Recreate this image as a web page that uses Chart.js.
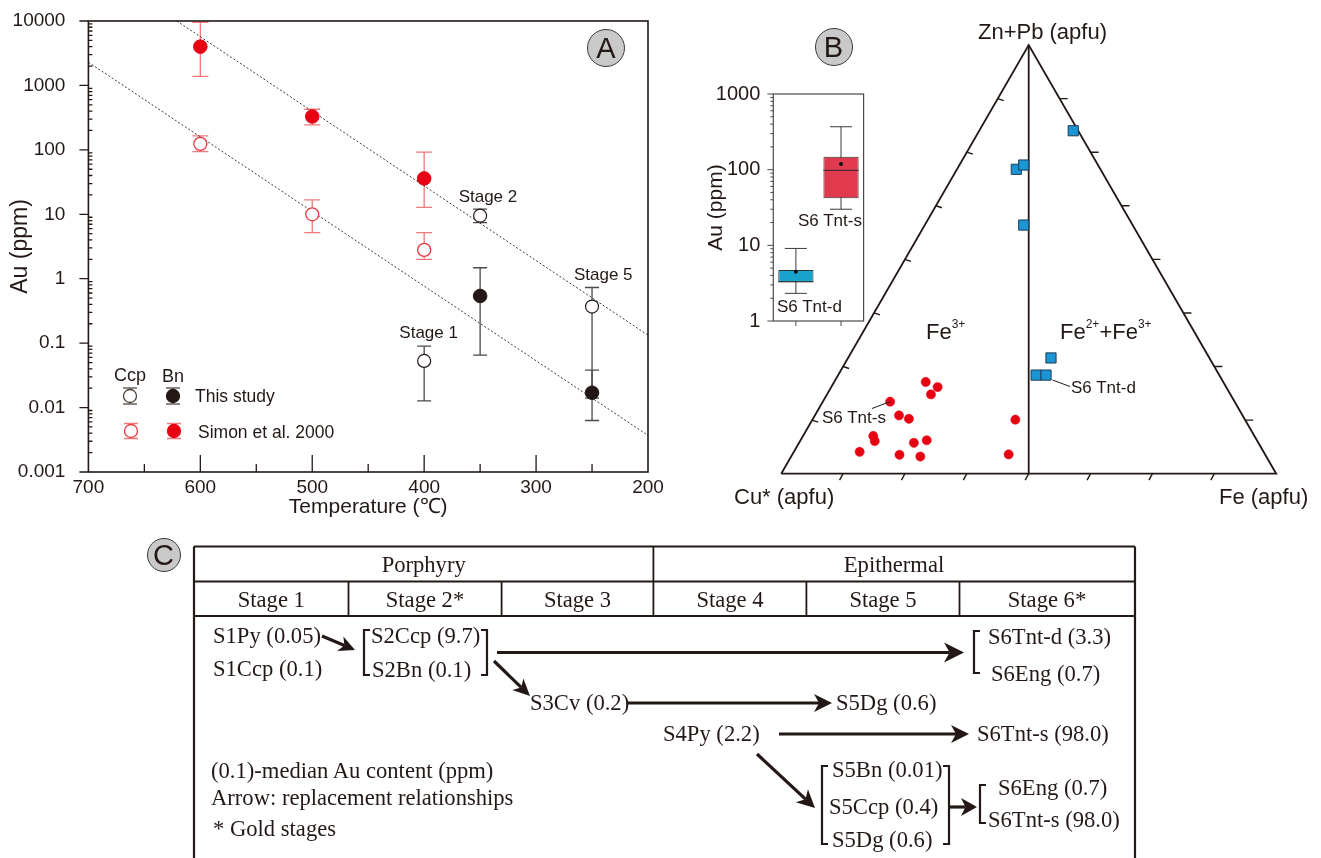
<!DOCTYPE html>
<html><head><meta charset="utf-8">
<script src="https://cdn.jsdelivr.net/npm/chart.js@4.4.1/dist/chart.umd.min.js"></script>
<style>
html,body{margin:0;padding:0;background:#fff;}
#page{position:relative;width:1321px;height:858px;overflow:hidden;background:#fff;font-family:"Liberation Sans",Arial,sans-serif;color:#231815;}
canvas{position:absolute;}
.t{position:absolute;white-space:nowrap;line-height:1;transform:translateY(-50%);}
.circ{position:absolute;border-radius:50%;background:#c9c9c9;border:1.6px solid #3a3a3a;box-sizing:border-box;text-align:center;font-family:"Liberation Sans",Arial,sans-serif;color:#231815;}
.c{position:absolute;white-space:nowrap;line-height:1;transform:translateY(-50%);font-family:"Liberation Serif","Times New Roman",serif;font-size:22.6px;color:#231815;}
.cc{position:absolute;white-space:nowrap;line-height:1;transform:translate(-50%,-50%);font-family:"Liberation Serif","Times New Roman",serif;font-size:22.6px;color:#231815;}
sup{font-size:12px;line-height:0;position:relative;top:-3px;vertical-align:super;}
svg{position:absolute;left:0;top:0;}
</style></head>
<body><div id="page">
<canvas id="cA" width="690" height="525" style="left:0;top:0;width:690px;height:525px"></canvas>
<canvas id="cB" width="621" height="520" style="left:700px;top:0;width:621px;height:520px"></canvas>
<canvas id="cBox" width="175" height="290" style="left:700px;top:60px;width:175px;height:290px"></canvas>
<svg id="svgC" width="1321" height="858"></svg>
<div id="overlay"></div>
</div>
<script>
// ---------------- Panel A data ----------------
const simonT = [600, 500, 400];
const simonCcpAu = [124, 10, 2.8];
const simonCcpLow = [94, 5.2, 2.0];
const simonCcpHigh = [165, 16.7, 5.2];
const simonBnAu = [4000, 330, 36];
const simonBnLow = [1380, 245, 12.8];
const simonBnHigh = [9500, 427, 92];
const studyCcpT = [400, 350, 250];
const studyCcpAu = [0.053, 9.5, 0.37];
const studyCcpLow = [0.0127, 7.4, 0.014];
const studyCcpHigh = [0.09, 12, 0.73];
const studyBnT = [350, 250];
const studyBnAu = [0.54, 0.017];
const studyBnLow = [0.065, 0.0063];
const studyBnHigh = [1.48, 0.038];
const trendHighT = [621, 200];
const trendHighAu = [10000, 0.133];
const trendLowT = [700, 200];
const trendLowAu = [2290, 0.0037];
const tempTicks = [700, 600, 500, 400, 300, 200];
const auTicks = [0.001, 0.01, 0.1, 1, 10, 100, 1000, 10000];
const auTickLabels = ['0.001', '0.01', '0.1', '1', '10', '100', '1000', '10000'];
const stageLabels = ['Stage 2', 'Stage 5', 'Stage 1'];
const stageLabelT = [343, 240, 396];
const stageLabelAu = [18.4, 1.13, 0.142];

// ---------------- Panel B data (ternary: Zn+Pb, Fe fractions) ----------------
const tntdZnPb = [0.80, 0.71, 0.72, 0.58, 0.27, 0.23, 0.23];
const tntdFe   = [0.19, 0.12, 0.13, 0.20, 0.41, 0.40, 0.42];
const tntsZnPb = [0.214, 0.202, 0.185, 0.168, 0.136, 0.128, 0.126, 0.088, 0.076, 0.072, 0.078, 0.051, 0.044, 0.040, 0.045];
const tntsFe   = [0.185, 0.215, 0.210, 0.136, 0.170, 0.194, 0.410, 0.142, 0.151, 0.232, 0.255, 0.133, 0.217, 0.261, 0.437];
// inset box plot
const boxCats = ['S6 Tnt-d', 'S6 Tnt-s'];
const boxMin  = [2.32, 30];
const boxQ1   = [3.25, 41.8];
const boxMed  = [3.3, 98];
const boxQ3   = [4.72, 148];
const boxMax  = [9.1, 369];
const boxMean = [4.48, 118.6];
const boxTicks = [1, 10, 100, 1000];

// ---------------- Panel C data ----------------
const cStagesGroup = ['Porphyry', 'Epithermal'];
const cStages = ['Stage 1', 'Stage 2*', 'Stage 3', 'Stage 4', 'Stage 5', 'Stage 6*'];
const cMinerals = ['S1Py', 'S1Ccp', 'S2Ccp', 'S2Bn', 'S3Cv', 'S4Py', 'S5Bn', 'S5Ccp', 'S5Dg', 'S6Tnt-d', 'S6Eng', 'S6Tnt-s'];
const cMedianAu = [0.05, 0.1, 9.7, 0.1, 0.2, 2.2, 0.01, 0.4, 0.6, 3.3, 0.7, 98.0];

const INK = '#231815';
const FONT = '"Liberation Sans", Arial, sans-serif';
const noPad = s => { s.paddingLeft = 0; s.paddingRight = 0; s.paddingTop = 0; s.paddingBottom = 0; };

// ================= Panel A =================
const pts = (xs, ys) => xs.map((x, i) => ({x: x, y: ys[i]}));

const errorBars = {
  id: 'errorBars',
  beforeDatasetsDraw(chart) {
    const ctx = chart.ctx, ys = chart.scales.y;
    chart.data.datasets.forEach((ds, i) => {
      if (!ds.errLow) return;
      const meta = chart.getDatasetMeta(i);
      ctx.save(); ctx.strokeStyle = ds.errColor; ctx.lineWidth = 1.3;
      meta.data.forEach((pt, j) => {
        const x = pt.x, y1 = ys.getPixelForValue(ds.errLow[j]), y2 = ys.getPixelForValue(ds.errHigh[j]);
        const cw = ds.capW || 7;
        ctx.beginPath();
        ctx.moveTo(x, y1); ctx.lineTo(x, y2);
        ctx.moveTo(x - cw, y1); ctx.lineTo(x + cw, y1);
        ctx.moveTo(x - cw, y2); ctx.lineTo(x + cw, y2);
        ctx.stroke();
      });
      ctx.restore();
    });
  }
};

function drawMarker(ctx, x, y, r, fill, stroke, errColor, eh) {
  ctx.save();
  ctx.strokeStyle = errColor; ctx.lineWidth = 1.3;
  ctx.beginPath();
  ctx.moveTo(x, y - eh); ctx.lineTo(x, y + eh);
  ctx.moveTo(x - 7, y - eh); ctx.lineTo(x + 7, y - eh);
  ctx.moveTo(x - 7, y + eh); ctx.lineTo(x + 7, y + eh);
  ctx.stroke();
  ctx.beginPath(); ctx.arc(x, y, r, 0, Math.PI * 2);
  ctx.fillStyle = fill; ctx.fill();
  ctx.strokeStyle = stroke; ctx.lineWidth = 1.3; ctx.stroke();
  ctx.restore();
}

const frameA = {
  id: 'frameA',
  afterDraw(chart) {
    const {ctx, chartArea: a, scales: {x, y}} = chart;
    ctx.save();
    ctx.strokeStyle = INK; ctx.lineWidth = 1.6;
    ctx.strokeRect(a.left, a.top, a.right - a.left, a.bottom - a.top);
    ctx.lineWidth = 1.3; ctx.beginPath();
    for (let t = 250; t < 700; t += 50) {
      const px = x.getPixelForValue(t);
      const len = t % 100 === 0 ? 17 : 8;
      ctx.moveTo(px, a.bottom); ctx.lineTo(px, a.bottom - len);
    }
    for (let e = -3; e <= 4; e++) {
      const py = y.getPixelForValue(Math.pow(10, e));
      ctx.moveTo(a.left - 9, py); ctx.lineTo(a.left, py);
      if (e < 4) for (let m = 2; m < 10; m++) {
        const pm = y.getPixelForValue(m * Math.pow(10, e));
        ctx.moveTo(a.left, pm); ctx.lineTo(a.left + 4, pm);
      }
    }
    ctx.stroke();
    // stage labels
    ctx.fillStyle = INK; ctx.font = '17px ' + FONT; ctx.textAlign = 'center'; ctx.textBaseline = 'middle';
    stageLabels.forEach((s, i) => ctx.fillText(s, x.getPixelForValue(stageLabelT[i]), y.getPixelForValue(stageLabelAu[i])));
    // legend
    ctx.font = '18px ' + FONT;
    ctx.fillText('Ccp', 130, 376);
    ctx.fillText('Bn', 173, 377);
    drawMarker(ctx, 130, 396, 6.5, '#fff', '#4a4036', '#6b6259', 8);
    drawMarker(ctx, 173, 396, 6.5, INK, INK, '#6b6259', 8);
    drawMarker(ctx, 131, 431, 6.5, '#fff', '#e8383d', '#f07a7a', 7.5);
    drawMarker(ctx, 174, 431, 6.5, '#e60012', '#e60012', '#f07a7a', 7.5);
    ctx.textAlign = 'left'; ctx.font = '17.5px ' + FONT;
    ctx.fillText('This study', 195, 397);
    ctx.fillText('Simon et al. 2000', 198, 433);
    ctx.restore();
  }
};

new Chart(document.getElementById('cA'), {
  type: 'scatter',
  data: {datasets: [
    {label: 'Trend (Bn)', type: 'line', data: pts(trendHighT, trendHighAu), borderColor: '#3a3a3a', borderWidth: 1, borderDash: [2, 2], pointRadius: 0, fill: false, order: 10},
    {label: 'Trend (Ccp)', type: 'line', data: pts(trendLowT, trendLowAu), borderColor: '#3a3a3a', borderWidth: 1, borderDash: [2, 2], pointRadius: 0, fill: false, order: 10},
    {label: 'Simon Ccp', data: pts(simonT, simonCcpAu), errLow: simonCcpLow, errHigh: simonCcpHigh, errColor: '#f07a7a', capW: 8,
      pointRadius: 6.5, pointBackgroundColor: '#fff', pointBorderColor: '#e8383d', pointBorderWidth: 1.3, order: 1},
    {label: 'Simon Bn', data: pts(simonT, simonBnAu), errLow: simonBnLow, errHigh: simonBnHigh, errColor: '#f07a7a', capW: 8,
      pointRadius: 6.8, pointBackgroundColor: '#e60012', pointBorderColor: '#e60012', pointBorderWidth: 1, order: 1},
    {label: 'This study Ccp', data: pts(studyCcpT, studyCcpAu), errLow: studyCcpLow, errHigh: studyCcpHigh, errColor: '#4a4a4a', capW: 7,
      pointRadius: 6.5, pointBackgroundColor: '#fff', pointBorderColor: INK, pointBorderWidth: 1.2, order: 1},
    {label: 'This study Bn', data: pts(studyBnT, studyBnAu), errLow: studyBnLow, errHigh: studyBnHigh, errColor: '#4a4a4a', capW: 7,
      pointRadius: 6.8, pointBackgroundColor: INK, pointBorderColor: INK, pointBorderWidth: 1, order: 1}
  ]},
  options: {
    responsive: false, animation: false, devicePixelRatio: 1,
    layout: {padding: {left: 0, right: 42, top: 21, bottom: 0}},
    plugins: {legend: {display: false}, tooltip: {enabled: false}},
    scales: {
      x: {type: 'linear', reverse: true, min: 200, max: 700,
        afterBuildTicks: s => { s.ticks = tempTicks.map(v => ({value: v})); },
        ticks: {font: {size: 19, family: FONT}, color: INK, padding: -4, maxRotation: 0, autoSkip: false, callback: v => String(v)},
        grid: {display: false}, border: {display: false},
        title: {display: true, text: 'Temperature (℃)', font: {size: 21, family: FONT}, color: INK, padding: {top: 0, bottom: 5}},
        afterFit: s => { s.height = 53; noPad(s); }},
      y: {type: 'logarithmic', min: 0.001, max: 10000,
        afterBuildTicks: s => { s.ticks = auTicks.map(v => ({value: v})); },
        ticks: {font: {size: 19, family: FONT}, color: INK, padding: 15, autoSkip: false,
          callback: v => auTickLabels[auTicks.indexOf(v)]},
        grid: {display: false}, border: {display: false},
        title: {display: true, text: 'Au (ppm)', font: {size: 23, family: FONT}, color: INK, padding: {top: 7, bottom: 0}},
        afterFit: s => { s.width = 88.4; noPad(s); }}
    }
  },
  plugins: [errorBars, frameA]
});

// ================= Panel B: ternary =================
const S3 = Math.sqrt(3) / 2;
const tern = (znpb, fe) => znpb.map((a, i) => ({x: fe[i] + a / 2, y: a * S3}));

const ternFrame = {
  id: 'ternFrame',
  afterDraw(chart) {
    const {ctx, scales: {x, y}} = chart;
    const P = (u, v) => [x.getPixelForValue(u), y.getPixelForValue(v)];
    ctx.save(); ctx.strokeStyle = INK; ctx.lineWidth = 1.4; ctx.beginPath();
    for (let k = 1; k < 8; k++) {
      const f = k / 8;
      let [bx, by] = P(f, 0); ctx.moveTo(bx, by); ctx.lineTo(bx - 3.5, by + 6.5);
      let [rx, ry] = P(1 - f / 2, f * S3); ctx.moveTo(rx, ry); ctx.lineTo(rx + 8, ry);
      let [lx, ly] = P(f / 2, f * S3); ctx.moveTo(lx, ly); ctx.lineTo(lx + 6, ly + 2);
    }
    ctx.stroke();
    // leader lines
    ctx.lineWidth = 1; ctx.beginPath();
    ctx.moveTo(352.5, 380); ctx.lineTo(370, 386.5);
    ctx.moveTo(190, 401.7); ctx.lineTo(172, 408.5);
    ctx.stroke();
    ctx.restore();
  }
};

new Chart(document.getElementById('cB'), {
  type: 'scatter',
  data: {datasets: [
    {label: 'frame', type: 'line', data: [{x: 0, y: 0}, {x: 1, y: 0}, {x: 0.5, y: S3}, {x: 0, y: 0}], borderColor: INK, borderWidth: 1.8, pointRadius: 0, fill: false, clip: false, order: 10, tension: 0},
    {label: 'divide', type: 'line', data: [{x: 0.5, y: 0}, {x: 0.5, y: S3}], borderColor: INK, borderWidth: 1.8, pointRadius: 0, fill: false, clip: false, order: 10},
    {label: 'S6 Tnt-d', data: tern(tntdZnPb, tntdFe), pointStyle: 'rect', pointRadius: 7.2, pointBackgroundColor: '#1b95d4', pointBorderColor: '#1f3c57', pointBorderWidth: 1, order: 1, clip: false},
    {label: 'S6 Tnt-s', data: tern(tntsZnPb, tntsFe), pointRadius: 4.6, pointBackgroundColor: '#e60012', pointBorderColor: '#e60012', pointBorderWidth: 0.5, order: 1, clip: false}
  ]},
  options: {
    responsive: false, animation: false, devicePixelRatio: 1,
    layout: {padding: {left: 81.2, right: 44.8, top: 45, bottom: 46.3}},
    plugins: {legend: {display: false}, tooltip: {enabled: false}},
    scales: {
      x: {type: 'linear', min: 0, max: 1, display: false},
      y: {type: 'linear', min: 0, max: S3, display: false}
    }
  },
  plugins: [ternFrame]
});

// ================= Panel B inset: box plot =================
const boxPlot = {
  id: 'boxPlot',
  beforeDatasetsDraw(chart) {
    const {ctx, scales: {x, y}} = chart;
    ctx.save(); ctx.strokeStyle = '#3a3a3a'; ctx.lineWidth = 1;
    boxCats.forEach((c, i) => {
      const px = x.getPixelForValue(i);
      const cw = 11;
      ctx.beginPath();
      ctx.moveTo(px, y.getPixelForValue(boxMax[i])); ctx.lineTo(px, y.getPixelForValue(boxMin[i]));
      ctx.moveTo(px - cw, y.getPixelForValue(boxMax[i])); ctx.lineTo(px + cw, y.getPixelForValue(boxMax[i]));
      ctx.moveTo(px - cw, y.getPixelForValue(boxMin[i])); ctx.lineTo(px + cw, y.getPixelForValue(boxMin[i]));
      ctx.stroke();
    });
    ctx.restore();
  },
  afterDatasetsDraw(chart) {
    const {ctx, scales: {x, y}} = chart;
    const meta = chart.getDatasetMeta(0);
    ctx.save(); ctx.strokeStyle = '#2a2a2a'; ctx.lineWidth = 1;
    boxCats.forEach((c, i) => {
      const bar = meta.data[i];
      const px = bar.x, hw = bar.width / 2;
      const pm = y.getPixelForValue(boxMed[i]);
      ctx.beginPath(); ctx.moveTo(px - hw, pm); ctx.lineTo(px + hw, pm); ctx.stroke();
      ctx.beginPath(); ctx.arc(px, y.getPixelForValue(boxMean[i]), 2, 0, Math.PI * 2); ctx.fillStyle = '#111'; ctx.fill();
    });
    ctx.restore();
  },
  afterDraw(chart) {
    const {ctx, chartArea: a, scales: {x, y}} = chart;
    ctx.save(); ctx.strokeStyle = '#4a4a4a'; ctx.lineWidth = 1.2;
    ctx.strokeRect(a.left, a.top, a.right - a.left, a.bottom - a.top);
    ctx.lineWidth = 1; ctx.beginPath();
    for (let e = 0; e <= 3; e++) {
      const py = y.getPixelForValue(Math.pow(10, e));
      ctx.moveTo(a.left - 6, py); ctx.lineTo(a.left, py);
      if (e < 3) for (let m = 2; m < 10; m++) {
        const pm = y.getPixelForValue(m * Math.pow(10, e));
        ctx.moveTo(a.left - 3, pm); ctx.lineTo(a.left, pm);
      }
    }
    boxCats.forEach((c, i) => { const px = x.getPixelForValue(i); ctx.moveTo(px, a.bottom); ctx.lineTo(px, a.bottom + 5); });
    ctx.stroke();
    ctx.restore();
  }
};

new Chart(document.getElementById('cBox'), {
  type: 'bar',
  data: {labels: boxCats, datasets: [{
    label: 'Au', data: boxQ1.map((q, i) => [q, boxQ3[i]]),
    backgroundColor: ['#19a3cf', '#e13a4f'], borderColor: '#333', borderWidth: 1, borderSkipped: false,
    barPercentage: 0.78, categoryPercentage: 1
  }]},
  options: {
    responsive: false, animation: false, devicePixelRatio: 1,
    layout: {padding: {left: 0, right: 11.4, top: 34, bottom: 0}},
    plugins: {legend: {display: false}, tooltip: {enabled: false}},
    scales: {
      x: {type: 'category', ticks: {display: false}, grid: {display: false}, border: {display: false}, afterFit: s => { s.height = 29; noPad(s); }},
      y: {type: 'logarithmic', min: 1, max: 1000,
        afterBuildTicks: s => { s.ticks = boxTicks.map(v => ({value: v})); },
        ticks: {font: {size: 20, family: FONT}, color: INK, padding: 5, autoSkip: false, callback: v => String(v)},
        grid: {display: false}, border: {display: false},
        title: {display: true, text: 'Au (ppm)', font: {size: 21, family: FONT}, color: INK, padding: {top: 3.4, bottom: 0}},
        afterFit: s => { s.width = 73.3; noPad(s); }}
    }
  },
  plugins: [boxPlot]
});

// ================= Overlay texts (A, B) =================
const ov = document.getElementById('overlay');
function addText(html, left, top, size, cls) {
  const d = document.createElement('div');
  d.className = cls || 't';
  d.style.left = left + 'px'; d.style.top = top + 'px';
  if (size) d.style.fontSize = size + 'px';
  d.innerHTML = html;
  ov.appendChild(d);
  return d;
}
function addCircle(letter, cx, cy, r) {
  const d = document.createElement('div');
  d.className = 'circ';
  d.style.left = (cx - r) + 'px'; d.style.top = (cy - r) + 'px';
  d.style.width = (2 * r) + 'px'; d.style.height = (2 * r) + 'px';
  d.style.fontSize = '29px'; d.style.lineHeight = (2 * r - 2) + 'px';
  d.textContent = letter;
  ov.appendChild(d);
}
addCircle('A', 606, 48, 19);
addCircle('B', 833.5, 47, 19);
addCircle('C', 163.6, 555, 17);

addText('Zn+Pb (apfu)', 978, 32, 22);
addText('Cu* (apfu)', 734, 497, 22);
addText('Fe (apfu)', 1219, 497, 22);
addText('Fe<sup>3+</sup>', 926, 332, 22);
addText('Fe<sup>2+</sup>+Fe<sup>3+</sup>', 1060, 332, 22);
addText('S6 Tnt-d', 1071, 387, 17);
addText('S6 Tnt-s', 822, 417, 17);
addText('S6 Tnt-s', 798, 220, 17);
addText('S6 Tnt-d', 777, 306, 17);

// ================= Panel C =================
const svg = document.getElementById('svgC');
const NS = 'http://www.w3.org/2000/svg';
function sv(tag, attrs) { const e = document.createElementNS(NS, tag); for (const k in attrs) e.setAttribute(k, attrs[k]); svg.appendChild(e); return e; }
function line(x1, y1, x2, y2, w) { sv('line', {x1, y1, x2, y2, stroke: INK, 'stroke-width': w || 2}); }
function bracket(x, y1, y2, dir) { // dir 1 = "[" , -1 = "]"
  sv('polyline', {points: `${x + 6 * dir},${y1} ${x},${y1} ${x},${y2} ${x + 6 * dir},${y2}`, fill: 'none', stroke: INK, 'stroke-width': 2.2});
}
function arrow(x1, y1, x2, y2, hl, hw) {
  hl = hl || 18; hw = hw || 9;
  const ang = Math.atan2(y2 - y1, x2 - x1), c = Math.cos(ang), s = Math.sin(ang);
  const bx = x2 - hl * c, by = y2 - hl * s;
  const nx = x2 - hl * 0.72 * c, ny = y2 - hl * 0.72 * s;
  line(x1, y1, nx, ny, 3.2);
  sv('polygon', {points: `${x2},${y2} ${bx + hw * s},${by - hw * c} ${nx},${ny} ${bx - hw * s},${by + hw * c}`, fill: INK});
}
// table frame
line(194, 546.5, 1135, 546.5, 2.2);
line(194, 546.5, 194, 860, 2.2);
line(1135, 546.5, 1135, 860, 2.2);
line(194, 581.5, 1135, 581.5, 1.8);
line(194, 616, 1135, 616, 1.8);
line(653.4, 546.5, 653.4, 616, 1.8);
[348.5, 501.6, 806.4, 959.5].forEach(x => line(x, 581.5, x, 616, 1.8));
// headers
const groupCx = [423.7, 894];
cStagesGroup.forEach((g, i) => addText(g, groupCx[i], 565, null, 'cc'));
const stageCx = [271.3, 425, 577.5, 730, 883, 1047];
cStages.forEach((s, i) => addText(s, stageCx[i], 600, null, 'cc'));
// mineral labels
const fmt = v => (v < 0.1 ? v.toFixed(2) : v.toFixed(1));
const lab = name => { const i = cMinerals.indexOf(name); return name + ' (' + fmt(cMedianAu[i]) + ')'; };
const cPlace = [
  ['S1Py', 213, 636], ['S1Ccp', 213, 669], ['S2Ccp', 371, 636], ['S2Bn', 372, 670],
  ['S6Tnt-d', 988, 637], ['S6Eng', 991, 674], ['S3Cv', 530, 703], ['S5Dg', 836, 703],
  ['S4Py', 663, 734], ['S6Tnt-s', 977, 734], ['S5Bn', 832, 770], ['S5Ccp', 829, 807],
  ['S5Dg', 832, 840], ['S6Eng', 998, 788], ['S6Tnt-s', 988, 820]
];
cPlace.forEach(p => addText(lab(p[0]), p[1], p[2], null, 'c'));
addText('(0.1)-median Au content (ppm)', 211, 771, null, 'c');
addText('Arrow: replacement relationships', 211, 798, null, 'c');
addText('* Gold stages', 213, 829, null, 'c');
// brackets
bracket(364, 630, 675, 1); bracket(487, 630, 675, -1);
bracket(974, 631, 673, 1);
bracket(822, 766, 844, 1); bracket(949, 766, 844, -1);
bracket(980, 785, 823, 1);
// arrows
arrow(322, 636, 355, 650, 16, 8);
arrow(497, 652.5, 964, 652.5, 20, 10);
arrow(494, 661, 530, 696, 17, 8);
arrow(628, 703, 832, 703, 18, 9);
arrow(779, 734, 969, 734, 18, 9);
arrow(757, 754, 815, 808, 18, 9);
arrow(950, 807, 977, 807, 16, 9);
</script>
</body></html>
